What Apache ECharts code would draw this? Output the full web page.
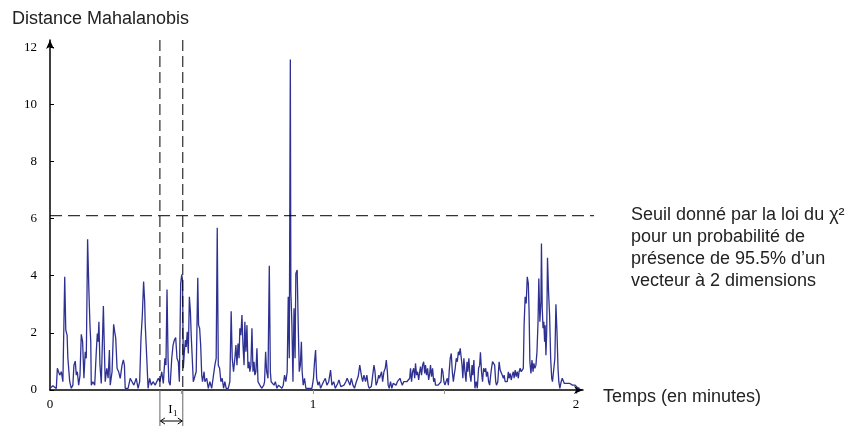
<!DOCTYPE html>
<html><head><meta charset="utf-8">
<script src="https://cdn.jsdelivr.net/npm/echarts@6/dist/echarts.min.js"></script>
<style>html,body{margin:0;padding:0;background:#fff}#c{width:857px;height:426px}</style>
</head><body><div id="c"></div>
<script>
// [time (minutes), Mahalanobis distance]
const seg1 = [[0,.06],[.011,.15],[.018,.1],[.024,.05],[.028,.76],[.037,.52],[.043,.64],[.049,.29],[.056,3.96],[.060,2.1],[.065,1.92],[.068,1.11],[.075,.29],[.081,.06],[.087,.17],[.091,.87],[.096,1.01],[.100,.52],[.104,.64],[.109,.17],[.114,.5],[.119,1.95],[.124,1.69],[.129,.41],[.134,1.34],[.138,1.11],[.143,5.28],[.148,3.44],[.152,2.27],[.155,1.69],[.157,.17],[.163,.29],[.170,.17],[.176,1.34],[.180,1.98],[.183,1.69],[.186,2.39],[.190,.87],[.195,.23],[.203,2.94],[.207,1.34],[.210,.29],[.216,.76],[.221,.41],[.226,1.4],[.229,.17],[.236,.64],[.242,2.3],[.246,2.04],[.250,1.81],[.255,.76],[.261,.64],[.267,.41],[.274,.87],[.279,1.05],[.283,.87],[.286,.06],[.297,.06],[.305,.41],[.312,.29],[.319,.17],[.328,.41],[.335,.06],[.341,.29],[.346,1.8],[.351,2.6],[.356,3.8],[.360,3.1],[.362,2.33],[.368,1.11],[.373,.06],[.379,.41],[.385,.17],[.392,.29],[.400,.17],[.405,.12]];
const seg2 = [[.412,.41],[.418,.29],[.425,.64],[.431,.23],[.437,1.11],[.441,.87],[.445,3.52],[.449,1.11],[.452,.29],[.457,.17],[.463,1.11],[.468,1.57],[.473,1.75],[.478,1.84],[.483,1.11],[.488,.99],[.492,.29],[.497,3.73],[.501,4.04],[.504,3.85],[.507,.76],[.511,1.34],[.515,1.75],[.518,1.51],[.522,2.04],[.526,1.28],[.530,3.26],[.534,2.74],[.537,1.92],[.541,1.11],[.545,.29],[.551,.23],[.556,.64],[.562,3.93],[.565,2.27],[.569,2.16],[.573,1.57],[.577,.52],[.580,.29],[.586,.64],[.589,.29],[.596,.41],[.602,.06],[.608,.29],[.615,.06],[.621,.12],[.627,.87],[.632,1.11],[.636,5.68],[.640,.87],[.645,.76],[.650,.29],[.655,.41],[.660,.06],[.665,.29],[.670,.06],[.678,.06],[.684,.29],[.689,2.76],[.693,1.11],[.698,.64],[.703,1.11],[.707,1.57],[.711,.87],[.715,1.63],[.719,1.11],[.722,2.16],[.726,1.92],[.730,2.62],[.734,1.57],[.738,.87],[.741,2.39],[.745,1.34],[.749,2.27],[.753,.76],[.757,.99],[.760,.64],[.764,.87],[.768,2.16],[.772,.64],[.776,.99],[.779,.52],[.783,.64],[.787,1.46],[.791,.29],[.798,.17],[.805,.06],[.813,.17]];
const seg3 = [[.816,.29],[.820,1.34],[.824,.64],[.829,.41],[.834,4.35],[.838,.64],[.841,.29],[.847,.29],[.852,.17],[.857,.29],[.863,.06],[.869,.17],[.876,.12],[.882,.06],[.887,.17],[.892,.52],[.897,.29],[.902,.64],[.906,3.26],[.910,1.11],[.914,11.57],[.916,3.44],[.920,2.27],[.924,.29],[.928,2.86],[.932,1.11],[.935,4.08],[.940,4.2],[.944,2.27],[.948,.64],[.952,.87],[.956,1.69],[.959,.64],[.963,.17],[.968,.41],[.973,.06],[.978,.12],[.983,.06],[.990,.12],[.996,.06],[1.002,.41],[1.006,.99],[1.010,1.4],[1.014,.41],[1.019,.17],[1.024,.29],[1.029,.06],[1.034,.12],[1.040,.29],[1.047,.41],[1.053,.17],[1.060,.29],[1.067,.7],[1.072,.17],[1.079,.29],[1.085,.06],[1.094,.23],[1.099,.35],[1.106,.12],[1.112,.06],[1.118,.17],[1.125,.29],[1.130,.41],[1.136,.35],[1.141,.17],[1.146,.41],[1.152,.17],[1.158,.06],[1.165,.29],[1.172,.47],[1.178,.87],[1.184,.52],[1.189,.29],[1.194,.52],[1.200,.29],[1.205,.52],[1.210,.17],[1.214,.06],[1.222,.12]];
const seg4 = [[1.228,.17],[1.232,.87],[1.236,.64],[1.240,.17],[1.245,.29],[1.250,.52],[1.253,.41],[1.257,.47],[1.261,.64],[1.265,.29],[1.270,.64],[1.275,.76],[1.279,1.05],[1.283,.64],[1.286,.17],[1.290,.06],[1.295,.29],[1.300,.06],[1.305,.23],[1.311,.29],[1.316,.17],[1.321,.29],[1.326,.35],[1.331,.41],[1.335,.29],[1.340,.17],[1.345,.29],[1.351,.23],[1.357,.29],[1.362,.23],[1.368,.41],[1.371,.76],[1.375,.29],[1.379,.64],[1.383,.76],[1.387,.41],[1.390,.93],[1.394,.52],[1.398,.64],[1.402,.35],[1.406,.64],[1.409,.82],[1.413,.52],[1.417,.87],[1.421,.99],[1.425,.58],[1.428,.87],[1.432,.52],[1.436,.76],[1.440,.35],[1.444,.58],[1.447,.87],[1.451,.47],[1.455,.76],[1.459,.29],[1.463,.41],[1.466,.17],[1.471,.23],[1.476,.17],[1.482,.17],[1.487,.29],[1.490,.76],[1.494,.64],[1.498,.29],[1.502,.17],[1.506,.29],[1.511,.41],[1.515,.17],[1.518,.64],[1.522,1.11],[1.526,1.28],[1.530,.64],[1.534,.29],[1.537,.52],[1.541,.76],[1.545,1.11],[1.549,.99],[1.553,1.34],[1.556,1.22],[1.560,1.46],[1.563,1.48],[1.567,.87],[1.570,.41],[1.574,1.11],[1.578,.64],[1.582,.29],[1.586,.99],[1.589,.64],[1.593,1.11],[1.597,.52],[1.601,.29],[1.605,.87],[1.608,.52],[1.612,1.05],[1.616,.06],[1.621,.29],[1.625,.06]];
const seg5 = [[1.630,.76],[1.634,.87],[1.637,1.32],[1.641,.64],[1.645,.29],[1.649,.76],[1.653,.64],[1.657,.76],[1.660,.47],[1.664,.64],[1.668,.29],[1.672,.17],[1.676,.52],[1.679,.76],[1.683,.99],[1.687,1.05],[1.691,.87],[1.695,.29],[1.698,.17],[1.703,.29],[1.708,.99],[1.712,.70],[1.716,.64],[1.720,.52],[1.724,.41],[1.727,.52],[1.731,.29],[1.735,.35],[1.739,.29],[1.743,.64],[1.746,.41],[1.750,.58],[1.754,.35],[1.758,.52],[1.762,.64],[1.765,.41],[1.769,.70],[1.773,.47],[1.777,.64],[1.781,.41],[1.784,.64],[1.788,.76],[1.792,.64],[1.796,.70],[1.800,.76],[1.803,2.27],[1.807,3.26],[1.811,3.03],[1.815,3.96],[1.819,3.73],[1.822,2.74],[1.825,.99],[1.829,.58],[1.833,1.05],[1.837,.64],[1.840,.93],[1.844,.76],[1.848,.87],[1.852,1.34],[1.856,2.39],[1.859,3.9],[1.863,2.39],[1.867,3.09],[1.869,5.13],[1.872,2.86],[1.875,2.16],[1.878,2.39],[1.881,1.69],[1.883,2.27],[1.886,1.22],[1.889,2.04],[1.892,4.63],[1.896,3.44],[1.900,2.62],[1.904,1.11],[1.908,.41],[1.911,.29],[1.916,.35],[1.920,1.11],[1.924,3.0],[1.928,2.04],[1.932,.76],[1.935,.29],[1.939,.06],[1.944,.29],[1.948,.41],[1.952,.47],[1.956,.23],[1.959,.29],[1.963,.17],[1.967,.23],[1.972,.17],[1.977,.23],[1.982,.20],[1.987,.17],[1.992,.15],[1.997,.17],[2.003,.12],[2.008,.06],[2.013,.08]];

const xLabels = [0, 1, 2];
const xTickValues = [0.5, 1, 1.5, 2];
const yLabels = [0, 2, 4, 6, 8, 10, 12];
const threshold = 6.1;
const intervalI1 = [0.418, 0.505];
const yTitle = 'Distance Mahalanobis';
const xTitle = 'Temps (en minutes)';
const noteLines = ['Seuil donné par la loi du χ²', 'pour un probabilité de', 'présence de 95.5% d\u2019un', 'vecteur à 2 dimensions'];

const data = seg1.concat(seg2, seg3, seg4, seg5);
const SANS = 'Liberation Sans, Arial, sans-serif';
const SERIF = 'Liberation Serif, Times New Roman, serif';

const chart = echarts.init(document.getElementById('c'), null, {renderer: 'canvas'});
const intFmt = v => (Math.abs(v - Math.round(v)) < 1e-9 ? String(Math.round(v)) : '');
chart.setOption({
  animation: false,
  grid: {left: 50, right: 274, top: 40, bottom: 36},
  xAxis: {
    type: 'value', min: 0, max: 2.027, interval: 0.5,
    splitLine: {show: false},
    axisLine: {lineStyle: {color: '#000', width: 1.5}, symbol: ['none', 'arrow'], symbolSize: [6, 9]},
    axisTick: {show: true, customValues: xTickValues, length: 4, lineStyle: {color: '#999'}},
    axisLabel: {customValues: xLabels, formatter: intFmt, margin: 8, fontFamily: SERIF, fontSize: 13, color: '#000'}
  },
  yAxis: {
    type: 'value', min: 0, max: 12.25, interval: 2,
    splitLine: {show: false},
    axisLine: {show: true, lineStyle: {color: '#000', width: 1.5}, symbol: ['none', 'arrow'], symbolSize: [6, 9]},
    axisTick: {show: true, inside: true, length: 4, customValues: yLabels, lineStyle: {color: '#000'}},
    axisLabel: {customValues: yLabels, formatter: intFmt, margin: 13, fontFamily: SERIF, fontSize: 13, color: '#000'}
  },
  series: [{
    type: 'line', data: data, showSymbol: false, symbol: 'none',
    lineStyle: {color: '#2e3192', width: 1.3}, itemStyle: {color: '#2e3192'}
  }]
});

const px = v => chart.convertToPixel({xAxisIndex: 0}, v);
const py = v => chart.convertToPixel({yAxisIndex: 0}, v);
const x0 = px(0), yBase = py(0), yTop = py(12.25), yThr = py(threshold);
const xa = px(intervalI1[0]), xb = px(intervalI1[1]);
const g = [];
g.push({type: 'line', shape: {x1: x0, y1: yThr, x2: 594, y2: yThr}, style: {stroke: '#000', lineWidth: 1, lineDash: [12, 6]}, z: 10});
[xa, xb].forEach(x => {
  g.push({type: 'line', shape: {x1: x, y1: yTop, x2: x, y2: yBase}, style: {stroke: '#000', lineWidth: 1, lineDash: [11, 5]}, z: 10});
  g.push({type: 'line', shape: {x1: x, y1: yBase, x2: x, y2: 426}, style: {stroke: '#666', lineWidth: 1}, z: 10});
});
const ym = 421;
g.push({type: 'line', shape: {x1: xa, y1: ym, x2: xb, y2: ym}, style: {stroke: '#000', lineWidth: 1}});
g.push({type: 'polyline', shape: {points: [[xa + 5, ym - 3], [xa + 0.5, ym], [xa + 5, ym + 3]]}, style: {stroke: '#000', lineWidth: 1, fill: null}});
g.push({type: 'polyline', shape: {points: [[xb - 5, ym - 3], [xb - 0.5, ym], [xb - 5, ym + 3]]}, style: {stroke: '#000', lineWidth: 1, fill: null}});
const xm = (xa + xb) / 2;
g.push({type: 'text', x: xm - 1, y: 410, style: {text: 'I', font: '13px ' + SERIF, fill: '#000', align: 'center', verticalAlign: 'middle'}});
g.push({type: 'text', x: xm + 4, y: 413.5, style: {text: '1', font: '9px ' + SERIF, fill: '#000', align: 'center', verticalAlign: 'middle'}});
g.push({type: 'text', x: 12, y: 19.5, style: {text: yTitle, font: '18px ' + SANS, fill: '#222', align: 'left', verticalAlign: 'middle'}});
g.push({type: 'text', x: 603, y: 397, style: {text: xTitle, font: '18px ' + SANS, fill: '#222', align: 'left', verticalAlign: 'middle'}});
noteLines.forEach((t, i) => {
  g.push({type: 'text', x: 631, y: 215 + i * 22, style: {text: t, font: '18px ' + SANS, fill: '#222', align: 'left', verticalAlign: 'middle'}});
});
chart.setOption({graphic: g});
</script>
</body></html>
